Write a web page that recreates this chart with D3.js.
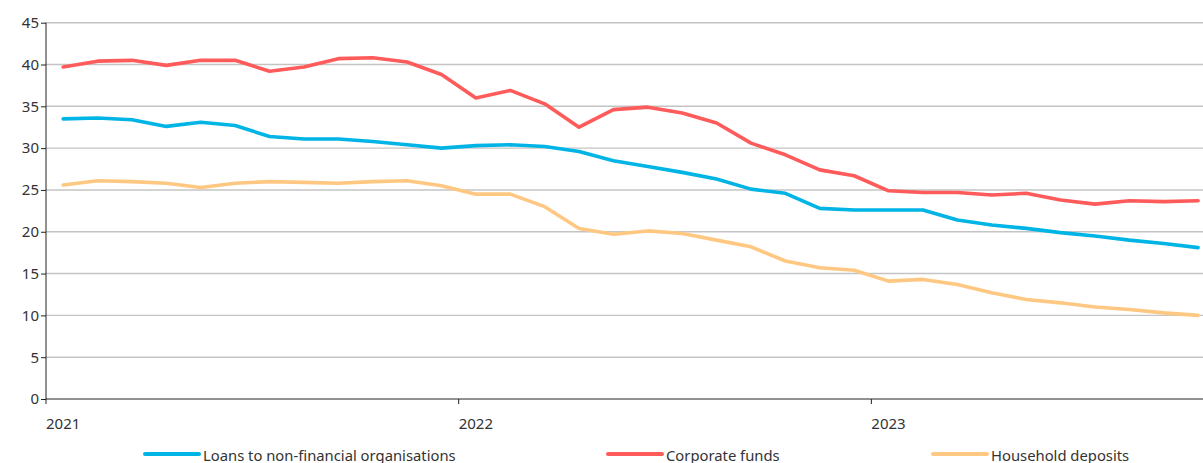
<!DOCTYPE html>
<html lang="en">
<head>
<meta charset="utf-8">
<title>Loans and deposits</title>
<script src="https://cdn.jsdelivr.net/npm/d3@7"></script>
<style>
  body { margin: 0; background: #fff; }
  text { font-family: "Noto Sans", sans-serif; fill: #333; }
</style>
</head>
<body>
<script>
// monthly, Jan 2021 - Oct 2023
var months = d3.range(34).map(function(i) { return new Date(2021, i, 1); });
var loans = [33.5,33.6,33.4,32.6,33.1,32.7,31.4,31.1,31.1,30.8,30.4,30.0,30.3,30.4,30.2,29.6,28.5,27.8,27.1,26.3,25.1,24.6,22.8,22.6,22.6,22.6,21.4,20.8,20.4,19.9,19.5,19.0,18.6,18.1];
var corporate = [39.7,40.4,40.5,39.9,40.5,40.5,39.2,39.7,40.7,40.8,40.3,38.8,36.0,36.9,35.3,32.5,34.6,34.9,34.2,33.0,30.6,29.2,27.4,26.7,24.9,24.7,24.7,24.4,24.6,23.8,23.3,23.7,23.6,23.7];
var household = [25.6,26.1,26.0,25.8,25.3,25.8,26.0,25.9,25.8,26.0,26.1,25.5,24.5,24.5,23.0,20.4,19.7,20.1,19.8,19.0,18.2,16.5,15.7,15.4,14.1,14.3,13.7,12.7,11.9,11.5,11.0,10.7,10.3,10.0];
var seriesNames = ["Loans to non-financial organisations", "Corporate funds", "Household deposits"];
var colors = ["#00b4e6", "#ff5b5b", "#ffc882"];
var yTicks = [0,5,10,15,20,25,30,35,40,45];

var w = 1203, h = 463;
var plotLeft = 46, plotTop = 22.7, plotBottom = 399;

var svg = d3.select("body").append("svg")
  .attr("width", w)
  .attr("height", h);

// one band per month, points sit in the middle of the band
var xScale = d3.scaleBand()
  .domain(months.map(function(d, i) { return i; }))
  .range([plotLeft, plotLeft + 34 * 34.39]);

var yScale = d3.scaleLinear()
  .domain([0, 45])
  .range([plotBottom, plotTop]);

// gridlines
svg.append("g")
  .selectAll("line")
  .data(yTicks.slice(1))
  .enter()
  .append("line")
  .attr("x1", plotLeft)
  .attr("x2", w)
  .attr("y1", function(d) { return yScale(d); })
  .attr("y2", function(d) { return yScale(d); })
  .attr("stroke", "#c4c4c4")
  .attr("stroke-width", 1.4);

// Y axis
var yAxis = d3.axisLeft(yScale).tickValues(yTicks).tickSize(5).tickPadding(2);
var gy = svg.append("g")
  .attr("transform", "translate(" + plotLeft + ",0)")
  .call(yAxis);
gy.select(".domain").remove();
gy.append("line").attr("x1", 0).attr("x2", 0).attr("y1", plotTop).attr("y2", plotBottom).attr("stroke", "#222");
gy.selectAll(".tick line").attr("stroke", "#222");
gy.selectAll(".tick text").style("font-size", "15px").attr("fill", "#333");

// X axis: year ticks at the start of each January band
var yearIdx = [0, 12, 24];
var gx = svg.append("g")
  .attr("transform", "translate(0," + plotBottom + ")");
gx.append("line").attr("x1", plotLeft).attr("x2", w).attr("y1", 0).attr("y2", 0).attr("stroke", "#222");
var xt = gx.selectAll(".tick")
  .data(yearIdx)
  .enter()
  .append("g")
  .attr("transform", function(d) { return "translate(" + xScale(d) + ",0)"; });
xt.append("line").attr("y1", 0).attr("y2", 5).attr("stroke", "#222");
xt.append("text")
  .attr("x", 0)
  .attr("y", 29.5)
  .style("font-size", "15px")
  .text(function(d) { return months[d].getFullYear(); });

// lines
var line = d3.line()
  .x(function(d, i) { return xScale(i) + xScale.bandwidth() / 2; })
  .y(function(d) { return yScale(d); });

var allSeries = [loans, corporate, household];
svg.append("g")
  .selectAll("path")
  .data(allSeries)
  .enter()
  .append("path")
  .attr("d", line)
  .attr("fill", "none")
  .attr("stroke", function(d, i) { return colors[i]; })
  .attr("stroke-width", 3.6)
  .attr("stroke-linejoin", "round")
  .attr("stroke-linecap", "round");

// legend
var legendX = [145, 608, 933];
var lg = svg.append("g")
  .selectAll("g")
  .data(seriesNames)
  .enter()
  .append("g")
  .attr("transform", function(d, i) { return "translate(" + legendX[i] + ",454)"; });
lg.append("line")
  .attr("x1", 0).attr("x2", 54)
  .attr("stroke", function(d, i) { return colors[i]; })
  .attr("stroke-width", 4)
  .attr("stroke-linecap", "round");
lg.append("text")
  .attr("x", 58)
  .attr("y", 6.5)
  .style("font-size", "14.8px")
  .text(function(d) { return d; });
</script>
</body>
</html>
